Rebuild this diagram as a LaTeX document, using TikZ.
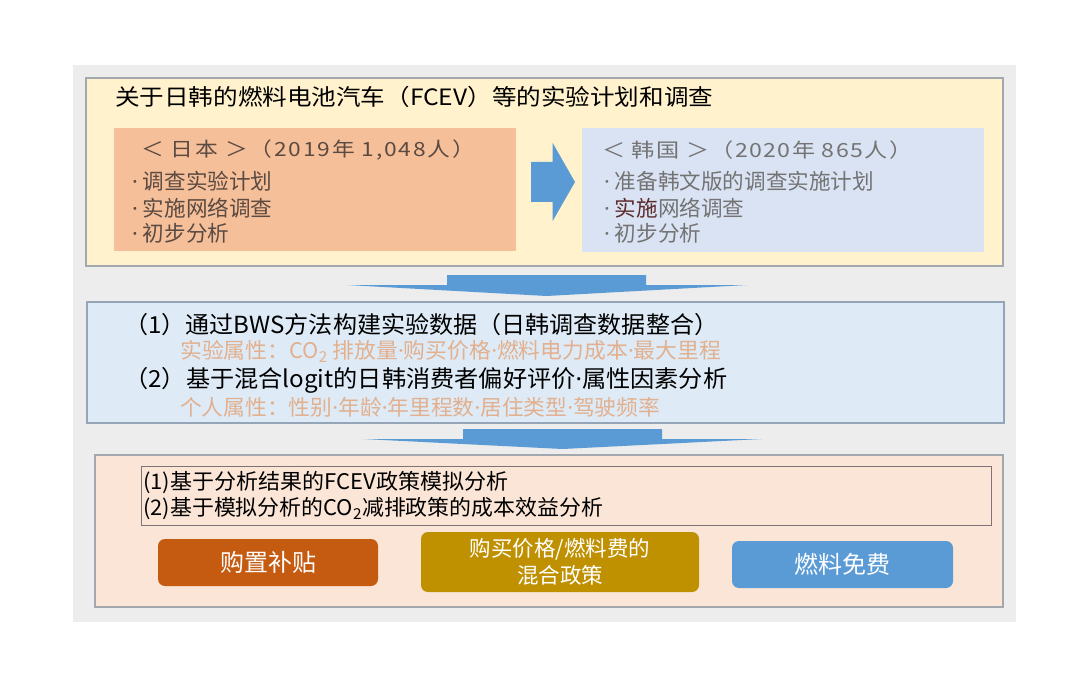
\documentclass[tikz,border=0pt]{standalone}
\usepackage{fontspec}
\usepackage{graphicx}
\setmainfont{Noto Sans CJK SC}
\newfontfamily\latfont{Noto Sans}
\definecolor{bggray}{HTML}{EDEDED}
\definecolor{cream}{HTML}{FFF2CC}
\definecolor{salmon}{HTML}{F5BF99}
\definecolor{lilac}{HTML}{DAE3F3}
\definecolor{paleblue}{HTML}{DEEBF7}
\definecolor{peach}{HTML}{FBE5D6}
\definecolor{arrowblue}{HTML}{5B9BD5}
\definecolor{jptext}{HTML}{5A4A42}
\definecolor{krtext}{HTML}{737373}
\definecolor{krred}{HTML}{5C2B2B}
\definecolor{tan}{HTML}{E2B08E}
\definecolor{rust}{HTML}{C55A11}
\definecolor{gold}{HTML}{BF9000}
\definecolor{framegray}{HTML}{A3A8AE}
\definecolor{midframe}{HTML}{95A5B8}
\definecolor{innerframe}{HTML}{7F7474}
\newcommand{\fitw}[2]{\resizebox{#1}{\height}{#2}}
\newcommand{\fs}[1]{\fontsize{#1}{#1}\selectfont}
\newcommand{\md}{{\latfont ·}}
\newcommand{\bul}{{\latfont ·}\kern5pt}
\begin{document}
\begin{tikzpicture}[x=1pt,y=-1pt,
  panel/.style={draw=framegray, line width=1.3pt, inner sep=0pt},
  subpanel/.style={inner sep=0pt},
  txt/.style={inner sep=0pt, anchor=west},
  btn/.style={rounded corners=7pt, inner sep=0pt, text=white, align=center},
  blockarrow/.style={fill=arrowblue}]
\useasboundingbox (0,0) rectangle (1080,690);
\fill[white] (0,0) rectangle (1080,690);
\fill[bggray] (73,65) rectangle (1016,622);

% top panel
\node[panel, fill=cream, minimum width=917pt, minimum height=188pt] (top) at (544.5,172) {};
\node[txt] (title) at (115,97) {\fitw{598pt}{\fs{22.5}关于日韩的燃料电池汽车（FCEV）等的实验计划和调查}};

\node[subpanel, fill=salmon, minimum width=402pt, minimum height=123pt] (jp) at (315,189.5) {};
\node[subpanel, fill=lilac, minimum width=402pt, minimum height=124pt] (kr) at (783,190) {};

\node[txt, text=jptext] (jph) at (141,150) {\fitw{334pt}{\fs{19.5}\addfontfeature{LetterSpace=8}＜ 日本 ＞（2019年 1,048人）}};
\node[txt, text=jptext] (jp1) at (132,181.5) {\fs{21.6}\bul 调查实验计划};
\node[txt, text=jptext] (jp2) at (132,208) {\fs{21.6}\bul 实施网络调查};
\node[txt, text=jptext] (jp3) at (132,233.5) {\fs{21.6}\bul 初步分析};

\node[txt, text=krtext] (krh) at (602,150) {\fitw{310pt}{\fs{19.5}\addfontfeature{LetterSpace=6}＜ 韩国 ＞（2020年 865人）}};
\node[txt, text=krtext] (kr1) at (604,181) {\fs{21.6}\bul 准备韩文版的调查实施计划};
\node[txt, text=krtext] (kr2) at (604,208) {\fs{21.6}\bul \textcolor{krred}{实施}网络调查};
\node[txt, text=krtext] (kr3) at (604,233.5) {\fs{21.6}\bul 初步分析};

% right block arrow
\fill[blockarrow] (531,162) -- (552.7,162) -- (552.7,143) -- (575,182) -- (552.7,221) -- (552.7,202) -- (531,202) -- cycle;

% down arrow 1
\fill[blockarrow] (447,275) -- (646,275) -- (646,285) -- (747,285) -- (546.5,296) -- (347,285) -- (447,285) -- cycle;

% middle panel
\node[panel, draw=midframe, fill=paleblue, minimum width=917pt, minimum height=121pt] (mid) at (545.5,362.5) {};
\node[txt] (m1) at (124,325) {\fitw{594pt}{\fs{23.5}（1）通过BWS方法构建实验数据（日韩调查数据整合）}};
\node[txt, text=tan] (m2) at (180,351.5) {\fitw{541pt}{\fs{21.5}实验属性：CO\textsubscript{2} 排放量\md 购买价格\md 燃料电力成本\md 最大里程}};
\node[txt] (m3) at (124,380) {\fitw{603pt}{\fs{23.5}（2）基于混合logit的日韩消费者偏好评价\md 属性因素分析}};
\node[txt, text=tan] (m4) at (180,407) {\fitw{480pt}{\fs{21.5}个人属性：性别\md 年龄\md 年里程数\md 居住类型\md 驾驶频率}};

% down arrow 2
\fill[blockarrow] (463,429) -- (662,429) -- (662,439) -- (762,439) -- (562.5,449) -- (363,439) -- (463,439) -- cycle;

% bottom panel
\node[panel, fill=peach, minimum width=908pt, minimum height=152pt] (bot) at (549,531) {};
\node[draw=innerframe, line width=1pt, minimum width=850pt, minimum height=59pt, inner sep=0pt] (inner) at (566,495.5) {};
\node[txt] (b1) at (143,483) {\fitw{365pt}{\fs{21.5}(1)基于分析结果的FCEV政策模拟分析}};
\node[txt] (b2) at (143,508.5) {\fitw{460pt}{\fs{21.5}(2)基于模拟分析的CO\textsubscript{2}减排政策的成本效益分析}};

\node[btn, fill=rust, minimum width=220pt, minimum height=47pt, font=\fs{24}] (p1) at (268,562.5) {购置补贴};
\node[btn, fill=gold, minimum width=278pt, minimum height=60pt, font=\fontsize{21.5}{27}\selectfont] (p2) at (560,562) {购买价格/燃料费的\\混合政策};
\node[btn, fill=arrowblue, minimum width=221pt, minimum height=47pt, font=\fs{24}] (p3) at (842.5,564.5) {燃料免费};
\end{tikzpicture}
\end{document}
